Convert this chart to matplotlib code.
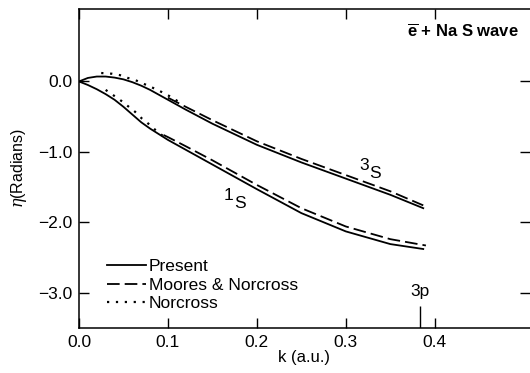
import matplotlib
matplotlib.use("Agg")
import matplotlib.pyplot as plt
from matplotlib.ticker import FuncFormatter

plt.rcParams['font.family'] = ['Liberation Sans', 'DejaVu Sans']
plt.rcParams['mathtext.fontset'] = 'custom'
plt.rcParams['mathtext.rm'] = 'Liberation Sans'
plt.rcParams['mathtext.it'] = 'DejaVu Serif:italic'
plt.rcParams['mathtext.bf'] = 'Liberation Sans:bold'

# Present (solid)
k_pres = [0, 0.01, 0.02, 0.03, 0.04, 0.05, 0.06, 0.07, 0.08, 0.1, 0.12, 0.15, 0.2, 0.25, 0.3, 0.35, 0.387]
eta3_pres = [0, 0.05, 0.07, 0.07, 0.055, 0.03, -0.01, -0.06, -0.12, -0.26, -0.40, -0.60, -0.90, -1.15, -1.38, -1.61, -1.80]
eta1_pres = [0, -0.05, -0.11, -0.18, -0.26, -0.36, -0.47, -0.58, -0.67, -0.83, -0.97, -1.18, -1.53, -1.87, -2.13, -2.31, -2.38]

# Moores & Norcross (dashed)
k_mn3 = [0.1, 0.12, 0.15, 0.2, 0.25, 0.3, 0.35, 0.387]
eta3_mn = [-0.23, -0.36, -0.55, -0.85, -1.10, -1.33, -1.56, -1.76]
k_mn1 = [0.095, 0.1, 0.12, 0.15, 0.2, 0.25, 0.3, 0.35, 0.39]
eta1_mn = [-0.76, -0.79, -0.92, -1.12, -1.47, -1.80, -2.06, -2.24, -2.33]

# Norcross (dotted)
k_n3 = [0.025, 0.037, 0.046, 0.055, 0.065, 0.074, 0.083, 0.093, 0.102, 0.111]
eta3_n = [0.12, 0.11, 0.09, 0.05, 0.01, -0.04, -0.09, -0.15, -0.21, -0.28]
k_n1 = [0.03, 0.038, 0.046, 0.055, 0.063, 0.071, 0.079, 0.086, 0.094]
eta1_n = [-0.12, -0.19, -0.26, -0.35, -0.43, -0.53, -0.61, -0.69, -0.77]

k_3p = 0.383

fig = plt.figure(figsize=(5.3, 3.73), dpi=100)
ax = fig.add_axes([0.149, 0.121, 0.851, 0.855])

lw = 1.3
dash = (0, (7, 2.8))
dot = (0, (1, 3))
ax.plot(k_pres, eta3_pres, color='black', lw=lw, label='Present')
ax.plot(k_pres, eta1_pres, color='black', lw=lw)
ax.plot(k_mn3, eta3_mn, color='black', lw=lw, ls=dash, label='Moores & Norcross')
ax.plot(k_mn1, eta1_mn, color='black', lw=lw, ls=dash)
ax.plot(k_n3, eta3_n, color='black', lw=1.6, ls=dot, label='Norcross')
ax.plot(k_n1, eta1_n, color='black', lw=1.6, ls=dot)

fs = 12.5
fmt = FuncFormatter(lambda v, p: ('%.1f' % v).replace('-', '\u2212'))
ax.set_xlim(0, 0.507)
ax.set_ylim(-3.5, 1.03)
ax.set_xticks([0.0, 0.1, 0.2, 0.3, 0.4])
ax.set_yticks([0.0, -1.0, -2.0, -3.0])
ax.xaxis.set_major_formatter(fmt)
ax.yaxis.set_major_formatter(fmt)
ax.tick_params(direction='in', length=7, width=1, labelsize=fs,
               top=True, right=True, pad=5)
ax.spines['right'].set_visible(False)
for s in ['left', 'top', 'bottom']:
    ax.spines[s].set_linewidth(1.1)

ax.set_xlabel('k (a.u.)', fontsize=12, labelpad=0)
ax.set_ylabel(r'$\eta$(Radians)', fontsize=11.5, labelpad=6)

ax.text(0.315, -1.3, '3', fontsize=fs, ha='left', va='bottom')
ax.annotate('S', (0.315, -1.3), xytext=(7, -6), textcoords='offset points',
            fontsize=fs, ha='left', va='bottom')
ax.text(0.163, -1.72, '1', fontsize=fs, ha='left', va='bottom')
ax.annotate('S', (0.163, -1.72), xytext=(7, -6), textcoords='offset points',
            fontsize=fs, ha='left', va='bottom')

ax.text(k_3p, -2.98, '3p', fontsize=fs, ha='center', va='center')
ax.vlines(k_3p, -3.5, -3.19, color='black', lw=1)

ax.text(0.975, 0.93, r'$\overline{\mathbf{e}}$ + Na S wave', transform=ax.transAxes,
        fontsize=12, fontweight='bold', ha='right', va='center')

ax.legend(loc='upper left', bbox_to_anchor=(0.062, 0.215), frameon=False,
          fontsize=fs, handlelength=2.25, handletextpad=0.15,
          labelspacing=0.18, borderpad=0, borderaxespad=0)

fig.savefig('out.png', dpi=100)
